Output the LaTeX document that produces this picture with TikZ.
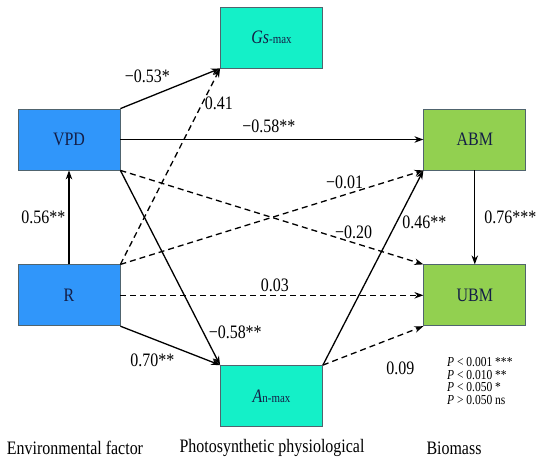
\documentclass[tikz,border=0pt]{standalone}
\usepackage{fontspec}
\setmainfont{Liberation Serif}[FakeStretch=0.84]
\usetikzlibrary{positioning,arrows.meta}

\definecolor{envblue}{RGB}{48,150,250}
\definecolor{physcyan}{RGB}{20,240,200}
\definecolor{biogreen}{RGB}{146,208,80}
\definecolor{boxline}{RGB}{80,100,110}
\definecolor{boxtext}{RGB}{20,30,70}

\begin{document}
\begin{tikzpicture}[x=1pt,y=-1pt,->,>={Stealth[length=9pt,width=6.5pt]},
   font=\fontsize{19}{22}\selectfont,
   varbox/.style={rectangle,draw=boxline,line width=0.8pt,minimum width=102pt,
     minimum height=61pt,text=boxtext},
   envbox/.style={varbox,fill=envblue},
   physbox/.style={varbox,fill=physcyan},
   biobox/.style={varbox,fill=biogreen},
   sig/.style={line width=1.3pt},
   ns/.style={line width=1.3pt,dash pattern=on 6pt off 4pt},
   coef/.style={inner sep=1pt}]
\useasboundingbox (0,0) rectangle (550,466);
\node[envbox] (vpd) at (69,139.5) {VPD};
\node[envbox,below=94pt of vpd] (r) {R};
\node[biobox,right=303pt of vpd] (abm) {ABM};
\node[biobox,right=303pt of r] (ubm) {UBM};
\node[physbox] (gs) at (271.5,37.5) {{\itshape Gs}{\fontsize{13}{13}\selectfont -max}};
\node[physbox] (an) at (271.5,396) {{\itshape A}{\fontsize{13}{13}\selectfont n-max}};
\path
 (vpd.north east) edge[sig] node[coef,pos=0.27,above=13pt] {−0.53*} (gs.south west)
 (r.north east) edge[ns] node[coef,pos=0.82,right=1pt] {0.41} (gs.south west)
 (vpd.east) edge[sig] node[coef,pos=0.49,above=5pt] {−0.58**} (abm.west)
 (vpd.south east) edge[ns] node[coef,pos=0.77,above=2pt] {−0.20} (ubm.north west)
 (vpd.south east) edge[sig] node[coef,pos=0.83,right=4pt] {−0.58**} (an.north west)
 (r.north east) edge[ns] node[coef,pos=0.74,above=4pt] {−0.01} (abm.south west)
 (r.east) edge[ns] node[coef,pos=0.51,above=2pt] {0.03} (ubm.west)
 (r.south east) edge[sig] node[coef,pos=0.32,below=14pt] {0.70**} (an.north west)
 (r.north) edge[sig] node[coef,left=2pt] {0.56**} (vpd.south)
 (an.north east) edge[sig] node[coef,pos=0.735,right=4pt] {0.46**} (abm.south west)
 (an.north east) edge[ns] node[coef,pos=0.77,below=25pt] {0.09} (ubm.south west)
 (abm.south) edge[sig] node[coef,right=8pt] {0.76***} (ubm.north);
\node[anchor=north west,align=left,inner sep=0pt,font=\fontsize{13.7}{12.7}\selectfont]
  (plegend) at (447,357) {\textit{P} < 0.001 ***\\\textit{P} < 0.010 **\\
  \textit{P} < 0.050 *\\\textit{P} > 0.050 ns};
\node[inner sep=0pt] (envlab) at (75,448) {Environmental factor};
\node[inner sep=0pt] (physlab) at (272,448) {Photosynthetic physiological};
\node[inner sep=0pt] (biolab) at (454,448) {Biomass};
\end{tikzpicture}
\end{document}
